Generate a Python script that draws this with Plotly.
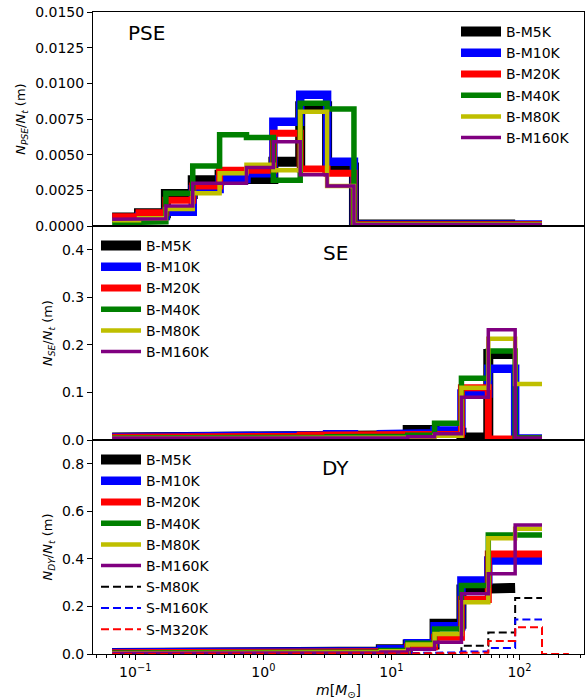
import plotly.graph_objects as go
from plotly.subplots import make_subplots

# ---------------- data ----------------
# log-spaced mass bin edges [Msun]
edges = [0.0660, 0.1070, 0.1734, 0.2811, 0.4557, 0.7387, 1.198, 1.941, 3.147,
         5.101, 8.271, 13.41, 21.73, 35.23, 57.10, 92.55, 150.0]
edges_s320 = edges + [243.2]

b_names = ["B-M5K", "B-M10K", "B-M20K", "B-M40K", "B-M80K", "B-M160K"]
s_names = ["S-M80K", "S-M160K", "S-M320K"]

# PSE panel (B-M5K covers one bin less at the high-mass end)
pse_b_m5k   = [0.0006, 0.0009, 0.00225, 0.0032, 0.0036, 0.0033, 0.0045, 0.0084, 0.0041, 0.0001, 0.0001, 0.0001, 0.0001, 0.0001, 0.0001]
pse_b_m10k  = [0.0005, 0.0007, 0.0010, 0.0026, 0.0033, 0.0037, 0.0073, 0.0092, 0.0045, 0.0001, 0.0001, 0.0001, 0.0001, 0.0001, 0.0001, 0.0001]
pse_b_m20k  = [0.00065, 0.00093, 0.0018, 0.0028, 0.0039, 0.0039, 0.0065, 0.0040, 0.0037, 0.0001, 0.0001, 0.0001, 0.0001, 0.0001, 0.0001, 0.0001]
pse_b_m40k  = [0.00023, 0.0003, 0.0023, 0.0042, 0.0064, 0.0062, 0.0032, 0.0086, 0.0082, 0.0001, 0.0001, 0.0001, 0.0001, 0.0001, 0.0001, 0.0001]
pse_b_m80k  = [0.0004, 0.00054, 0.0012, 0.0023, 0.0037, 0.0043, 0.0039, 0.0080, 0.0028, 0.0001, 0.0001, 0.0001, 0.0001, 0.0001, 0.0001, 0.0001]
pse_b_m160k = [0.00047, 0.0005, 0.0014, 0.0030, 0.0030, 0.0041, 0.0059, 0.0036, 0.0028, 0.0001, 0.0001, 0.0001, 0.0001, 0.0001, 0.0001, 0.0001]

# SE panel
se_b_m5k   = [0.005, 0.005, 0.005, 0.005, 0.005, 0.006, 0.006, 0.007, 0.008, 0.008, 0.010, 0.021, 0.015, 0.005, 0.181]
se_b_m10k  = [0.006, 0.006, 0.006, 0.006, 0.006, 0.008, 0.010, 0.010, 0.012, 0.007, 0.012, 0.014, 0.020, 0.098, 0.150, 0.003]
se_b_m20k  = [0.006, 0.006, 0.006, 0.006, 0.006, 0.007, 0.008, 0.010, 0.012, 0.010, 0.009, 0.012, 0.012, 0.110, 0.002, 0.002]
se_b_m40k  = [0.004, 0.004, 0.004, 0.004, 0.004, 0.004, 0.005, 0.006, 0.007, 0.006, 0.008, 0.010, 0.035, 0.130, 0.187, 0.004]
se_b_m80k  = [0.004, 0.004, 0.004, 0.004, 0.004, 0.004, 0.004, 0.005, 0.006, 0.005, 0.004, 0.005, 0.009, 0.110, 0.213, 0.118]
se_b_m160k = [0.004, 0.004, 0.004, 0.004, 0.004, 0.004, 0.004, 0.005, 0.005, 0.004, 0.004, 0.007, 0.013, 0.090, 0.232, 0.004]

# DY panel
dy_b_m5k   = [0.004, 0.004, 0.004, 0.004, 0.004, 0.004, 0.004, 0.005, 0.006, 0.010, 0.020, 0.040, 0.127, 0.272, 0.278]
dy_b_m10k  = [0.006, 0.006, 0.006, 0.006, 0.006, 0.006, 0.006, 0.007, 0.008, 0.012, 0.020, 0.045, 0.117, 0.309, 0.393, 0.393]
dy_b_m20k  = [0.005, 0.005, 0.005, 0.005, 0.005, 0.005, 0.005, 0.006, 0.007, 0.009, 0.010, 0.030, 0.070, 0.229, 0.421, 0.421]
dy_b_m40k  = [0.004, 0.004, 0.004, 0.004, 0.004, 0.004, 0.004, 0.005, 0.006, 0.008, 0.015, 0.045, 0.105, 0.288, 0.500, 0.500]
dy_b_m80k  = [0.003, 0.003, 0.003, 0.003, 0.003, 0.003, 0.003, 0.004, 0.005, 0.007, 0.012, 0.040, 0.084, 0.218, 0.487, 0.527]
dy_b_m160k = [0.003, 0.003, 0.003, 0.003, 0.003, 0.003, 0.003, 0.003, 0.004, 0.005, 0.008, 0.020, 0.049, 0.253, 0.337, 0.543]
dy_s_m80k  = [0.0, 0.0, 0.0, 0.0, 0.0, 0.0, 0.0, 0.0, 0.0, 0.0, 0.0, 0.0, 0.0, 0.035, 0.090, 0.235]
dy_s_m160k = [0.0, 0.0, 0.0, 0.0, 0.0, 0.0, 0.0, 0.0, 0.0, 0.0, 0.0, 0.004, 0.007, 0.010, 0.025, 0.145]
dy_s_m320k = [0.0, 0.0, 0.0, 0.0, 0.0, 0.0, 0.0, 0.0, 0.0, 0.0, 0.0, 0.002, 0.003, 0.005, 0.055, 0.113, 0.0]

# ---------------- styles ----------------
b_colors = ["#000000", "#0000ff", "#ff0000", "#008000", "#bfbf00", "#800080"]
b_widths = [10, 8.5, 7, 5.5, 4.5, 3.5]
s_colors = ["#000000", "#0000ff", "#ff0000"]


def step_xy(e, v):
    xs, ys = [], []
    for i, val in enumerate(v):
        xs += [e[i], e[i + 1]]
        ys += [val, val]
    return xs, ys


fig = make_subplots(rows=3, cols=1, shared_xaxes=True, vertical_spacing=0)

panels = [
    (1, "legend", [pse_b_m5k, pse_b_m10k, pse_b_m20k, pse_b_m40k, pse_b_m80k, pse_b_m160k]),
    (2, "legend2", [se_b_m5k, se_b_m10k, se_b_m20k, se_b_m40k, se_b_m80k, se_b_m160k]),
    (3, "legend3", [dy_b_m5k, dy_b_m10k, dy_b_m20k, dy_b_m40k, dy_b_m80k, dy_b_m160k]),
]
for row, leg, series in panels:
    for name, vals, col, w in zip(b_names, series, b_colors, b_widths):
        xs, ys = step_xy(edges, vals)
        fig.add_trace(go.Scatter(x=xs, y=ys, mode="lines", name=name,
                                 line=dict(color=col, width=w), legend=leg),
                      row=row, col=1)

for name, vals, col, e in zip(s_names, [dy_s_m80k, dy_s_m160k, dy_s_m320k], s_colors,
                              [edges, edges, edges_s320]):
    xs, ys = step_xy(e, vals)
    fig.add_trace(go.Scatter(x=xs, y=ys, mode="lines", name=name,
                             line=dict(color=col, width=2, dash="8px,4px"), legend="legend3"),
                  row=3, col=1)

# ---------------- axes ----------------
xrange_log = [-1.330, 2.504]
minor_vals = [m * 10 ** p for p in range(-2, 3) for m in range(2, 10)]
for r in (1, 2, 3):
    fig.update_xaxes(type="log", range=xrange_log, showline=True, mirror=True,
                     linecolor="black", linewidth=1, showgrid=False, zeroline=False,
                     row=r, col=1)
fig.update_xaxes(showticklabels=False, ticks="", row=1, col=1)
fig.update_xaxes(showticklabels=False, ticks="", row=2, col=1)
fig.update_xaxes(ticks="outside", ticklen=5, tickwidth=1, tickcolor="black",
                 tickmode="array", tickvals=[0.1, 1, 10, 100],
                 ticktext=["10<sup>\u22121</sup>", "10<sup>0</sup>", "10<sup>1</sup>", "10<sup>2</sup>"],
                 tickfont=dict(size=14),
                 minor=dict(ticks="outside", ticklen=3, tickwidth=1, tickcolor="black",
                            tickmode="array", tickvals=minor_vals, showgrid=False),
                 title=dict(text="<i>m</i>[<i>M</i><sub>\u2299</sub>]", font=dict(size=14), standoff=6),
                 row=3, col=1)

yconf = dict(showline=True, mirror=True, linecolor="black", linewidth=1, showgrid=False,
             zeroline=False, ticks="outside", ticklen=5, tickwidth=1, tickcolor="black",
             tickfont=dict(size=14))
fig.update_yaxes(range=[0, 0.015], dtick=0.0025, tickformat=".4f",
                 title=dict(text="<i>N</i><sub><i>PSE</i></sub>/<i>N</i><sub><i>t</i></sub> (m)",
                            font=dict(size=13), standoff=6), row=1, col=1, **yconf)
fig.update_yaxes(range=[0, 0.45], dtick=0.1, tickformat=".1f",
                 title=dict(text="<i>N</i><sub><i>SE</i></sub>/<i>N</i><sub><i>t</i></sub> (m)",
                            font=dict(size=13), standoff=6), row=2, col=1, **yconf)
fig.update_yaxes(range=[0, 0.9], dtick=0.2, tickformat=".1f",
                 title=dict(text="<i>N</i><sub><i>DY</i></sub>/<i>N</i><sub><i>t</i></sub> (m)",
                            font=dict(size=13), standoff=6), row=3, col=1, **yconf)

# ---------------- labels & legends ----------------
W0, PW, B0, PH = 93, 491, 654, 642


def px(x):
    return (x - W0) / PW


def py(y):
    return (B0 - y) / PH


for txt, x, y, anc in [("PSE", 126, 33, "left"), ("SE", 350, 253, "right"), ("DY", 351, 468, "right")]:
    fig.add_annotation(text=txt, x=px(x), y=py(y), xref="paper", yref="paper",
                       xanchor=anc, yanchor="middle", showarrow=False,
                       font=dict(size=20, color="black"))

legfont = dict(size=14, color="black")
fig.update_layout(
    width=585, height=700,
    margin=dict(l=93, r=1, t=12, b=46),
    paper_bgcolor="white", plot_bgcolor="white",
    font=dict(family="DejaVu Sans", color="black"),
    showlegend=True,
    legend=dict(x=px(456), y=py(16), xanchor="left", yanchor="top", font=legfont,
                bgcolor="rgba(0,0,0,0)", itemwidth=40, tracegroupgap=0),
    legend2=dict(x=px(96), y=py(230), xanchor="left", yanchor="top", font=legfont,
                 bgcolor="rgba(0,0,0,0)", itemwidth=40, tracegroupgap=0),
    legend3=dict(x=px(96), y=py(444), xanchor="left", yanchor="top", font=legfont,
                 bgcolor="rgba(0,0,0,0)", itemwidth=40, tracegroupgap=0),
)

fig.write_html("out.html")
